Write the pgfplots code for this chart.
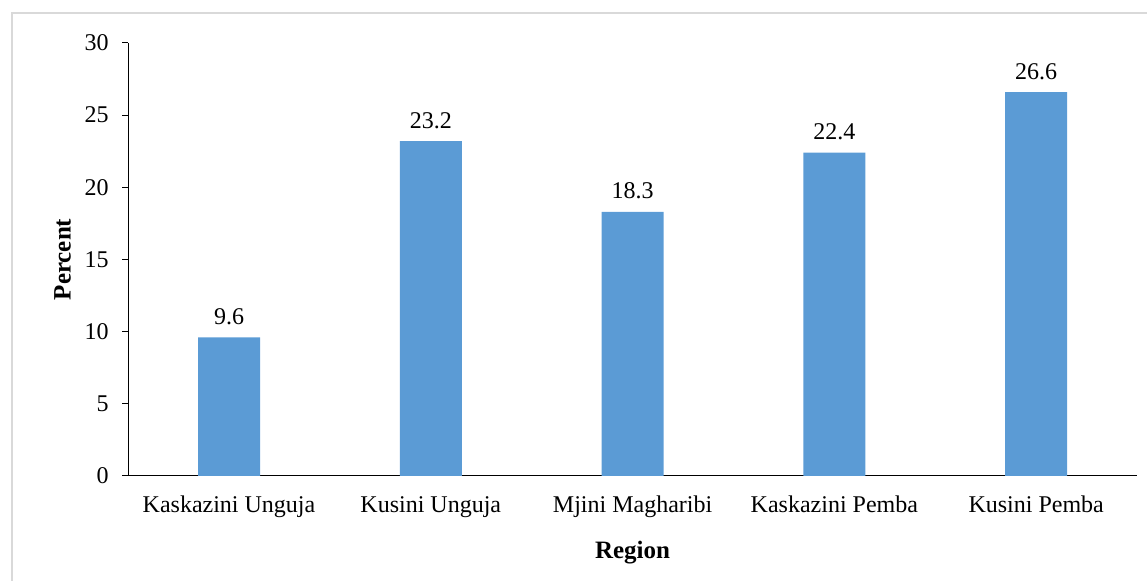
\documentclass[border=0pt]{standalone}
\usepackage{pgfplots}
\pgfplotsset{compat=1.18}
\usepackage{fontspec}
\setmainfont{Liberation Serif}
\definecolor{barblue}{HTML}{5B9BD5}
\definecolor{frame}{HTML}{D9D9D9}
\begin{document}
\begin{tikzpicture}[x=1bp,y=1bp]
\path[use as bounding box] (0,0) rectangle (1147,581);
\draw[frame,line width=2bp] (12,-5) -- (12,568) -- (1152,568);
\begin{axis}[
  at={(229bp,105bp)}, anchor=origin,
  scale only axis, width=1009bp, height=433bp,
  xmin=-0.5, xmax=4.5, ymin=0, ymax=30,
  ytick={0,5,...,30},
  xtick={0,1,2,3,4},
  xticklabels={Kaskazini Unguja,Kusini Unguja,Mjini Magharibi,Kaskazini Pemba,Kusini Pemba},
  axis lines*=left,
  axis line style={black, line width=1bp},
  x tick style={draw=none},
  y tick style={black, line width=1bp},
  tick align=outside, major tick length=6bp,
  ticklabel style={font=\fontsize{24bp}{28bp}\selectfont},
  /pgf/number format/assume math mode=true,
  yticklabel style={xshift=-10bp},
  xticklabel style={text height=17bp, text depth=5bp, yshift=-10bp},
  ylabel={\textbf{Percent}},
  xlabel={\textbf{Region}},
  label style={font=\fontsize{25bp}{29bp}\selectfont},
  ylabel style={at={(axis description cs:-0.065,0.5)}, anchor=center},
  xlabel style={at={(axis description cs:0.5,-0.178)}, anchor=center},
  ybar, bar width=62bp,
  nodes near coords,
  nodes near coords style={font=\fontsize{24bp}{28bp}\selectfont, /pgf/number format/fixed, /pgf/number format/precision=1, /pgf/number format/fixed zerofill, yshift=9bp},
  clip=false,
]
\addplot[fill=barblue, draw=none] coordinates {(0,9.6) (1,23.2) (2,18.3) (3,22.4) (4,26.6)};
\end{axis}
\end{tikzpicture}
\end{document}
